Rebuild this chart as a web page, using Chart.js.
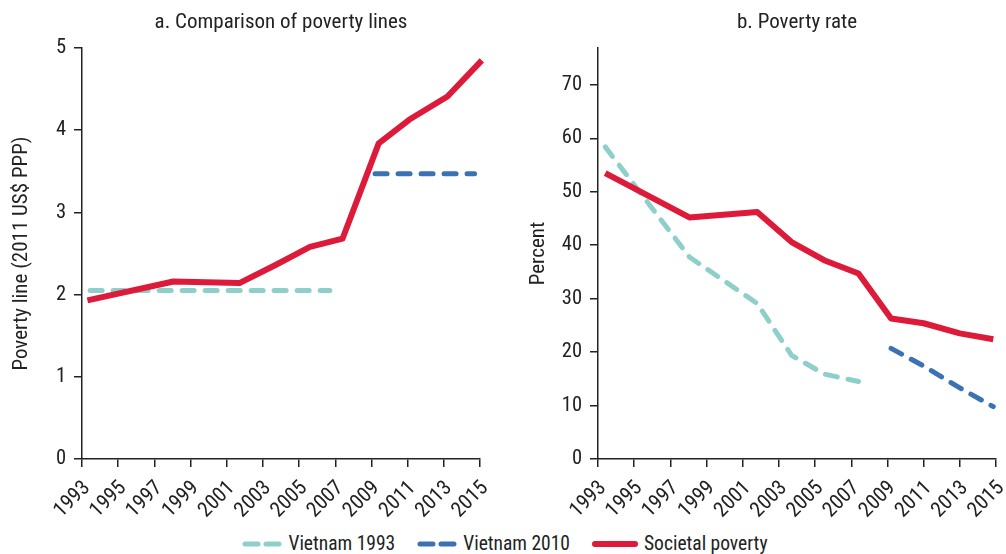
<!DOCTYPE html>
<html>
<head>
<meta charset="utf-8">
<script src="https://cdn.jsdelivr.net/npm/chart.js@4"></script>
<style>
  body { margin: 0; background: #fff; font-family: 'Liberation Sans Narrow', 'Roboto Condensed', 'DejaVu Sans Condensed', sans-serif; }
  #wrap { position: relative; width: 1006px; height: 554px; overflow: hidden; }
  .box { position: absolute; top: 0; height: 530px; }
  #legend { position: absolute; top: 532px; left: 0; width: 1006px; display: flex; justify-content: center; gap: 22px; font-size: 19.5px; color: #222; padding-left: 2px; }
  #legend span { display: inline-flex; align-items: center; gap: 6px; }
</style>
</head>
<body>
<div id="wrap">
  <div class="box" style="left:0;width:500px"><canvas id="graficoLinhas"></canvas></div>
  <div class="box" style="left:500px;width:506px"><canvas id="graficoTaxa"></canvas></div>
  <div id="legend">
    <span><svg width="40" height="10"><line x1="3" y1="5" x2="37" y2="5" stroke="#8ecfc9" stroke-width="5" stroke-linecap="round" stroke-dasharray="13 8"/></svg>Vietnam 1993</span>
    <span><svg width="40" height="10"><line x1="3" y1="5" x2="37" y2="5" stroke="#3a72b4" stroke-width="5" stroke-linecap="round" stroke-dasharray="13 8"/></svg>Vietnam 2010</span>
    <span><svg width="46" height="10"><line x1="3" y1="5" x2="43" y2="5" stroke="#dd1a3a" stroke-width="6" stroke-linecap="round"/></svg>Societal poverty</span>
  </div>
</div>
<script>
// anos das pesquisas (posição no eixo)
const yearsA = [1993.3, 1998.05, 2001.7, 2003.7, 2005.6, 2007.4, 2009.4, 2011.1, 2013.2, 2015.1];
const yearsB = [1993.4, 1998.05, 2001.8, 2003.7, 2005.5, 2007.4, 2009.2, 2011, 2013, 2014.85];

// a. linhas de pobreza (2011 US$ PPP)
const societalLine = [1.93, 2.16, 2.14, 2.36, 2.58, 2.68, 3.84, 4.13, 4.41, 4.85];
const vn1993LineYears = [1993.45, 2006.7];
const vn1993Line = [2.05, 2.05];
const vn2010LineYears = [2009.2, 2014.7];
const vn2010Line = [3.47, 3.47];

// b. taxa de pobreza (%)
const societalRate = [53.5, 45.2, 46.2, 40.6, 37.2, 34.7, 26.3, 25.4, 23.5, 22.4];
const vn1993Rate = [58.4, 37.8, 29.1, 19.4, 15.9, 14.5];
const vn2010Rate = [20.7, 17.4, 13.3, 9.8];

const yearTicks = [1993, 1995, 1997, 1999, 2001, 2003, 2005, 2007, 2009, 2011, 2013, 2015];

const RED = "#dd1a3a", TEAL = "#8ecfc9", BLUE = "#3a72b4", INK = "#222";

Chart.defaults.font.family = "'Liberation Sans Narrow', 'Roboto Condensed', 'DejaVu Sans Condensed', sans-serif";
Chart.defaults.color = INK;

function pts(xs, vals) {
  return vals.map((v, i) => ({ x: xs[i], y: v }));
}

function series(xs, vals, color, dashed) {
  return {
    data: pts(xs, vals),
    borderColor: color,
    borderWidth: dashed ? 5 : 6,
    borderDash: dashed ? [12, 11] : [],
    borderCapStyle: dashed ? "round" : "butt",
    borderJoinStyle: "round",
    pointRadius: 0,
    fill: false,
    order: dashed ? 1 : 0,
    clip: false
  };
}

function options(title, yTitle, yMax, yStep, yWidth, padLeft, padRight, yTitlePad) {
  return {
    responsive: false,
    animation: false,
    layout: { padding: { left: padLeft, right: padRight, top: 0, bottom: 0 } },
    plugins: {
      legend: { display: false },
      tooltip: { enabled: false },
      title: { display: true, fullSize: false, text: title, font: { size: 21, weight: "normal" }, color: INK, padding: { top: 10.4, bottom: 12.4 } }
    },
    scales: {
      x: {
        type: "linear", min: 1993, max: 2015,
        afterBuildTicks: s => { s.ticks = yearTicks.map(v => ({ value: v })); },
        afterFit: s => { s.height = 71; s.paddingLeft = 0; s.paddingRight = 0; },
        ticks: { autoSkip: false, minRotation: 45, maxRotation: 45, font: { size: 21 }, padding: 9, labelOffset: 5, callback: v => String(v) },
        grid: { display: true, drawOnChartArea: false, tickLength: 8, color: INK, lineWidth: 1.5 },
        border: { display: true, color: INK, width: 1.5 }
      },
      y: {
        min: 0, max: yMax,
        afterBuildTicks: s => { s.ticks = s.ticks.filter(t => t.value % yStep === 0); },
        afterFit: s => { s.width = yWidth; },
        ticks: { autoSkip: false, stepSize: yStep, font: { size: 20.5 }, padding: 8 },
        title: { display: true, text: yTitle, font: { size: 21 }, color: INK, padding: { top: yTitlePad, bottom: 4 } },
        grid: { display: true, drawOnChartArea: false, tickLength: 8, color: INK, lineWidth: 1.5 },
        border: { display: true, color: INK, width: 1.5 }
      }
    }
  };
}

const c1 = document.getElementById("graficoLinhas");
c1.width = 500; c1.height = 530;
new Chart(c1, {
  type: "line",
  data: {
    datasets: [
      series(yearsA, societalLine, RED, false),
      series(vn1993LineYears, vn1993Line, TEAL, true),
      series(vn2010LineYears, vn2010Line, BLUE, true)
    ]
  },
  options: options("a. Comparison of poverty lines", "Poverty line (2011 US$ PPP)", 5, 1, 82, 0, 20, 9)
});

const c2 = document.getElementById("graficoTaxa");
c2.width = 506; c2.height = 530;
new Chart(c2, {
  type: "line",
  data: {
    datasets: [
      series(yearsB, societalRate, RED, false),
      series(yearsB, vn1993Rate, TEAL, true),
      series(yearsB.slice(6), vn2010Rate, BLUE, true)
    ]
  },
  options: options("b. Poverty rate", "Percent", 76.9, 10, 76, 22, 10, 4)
});
</script>
</body>
</html>
